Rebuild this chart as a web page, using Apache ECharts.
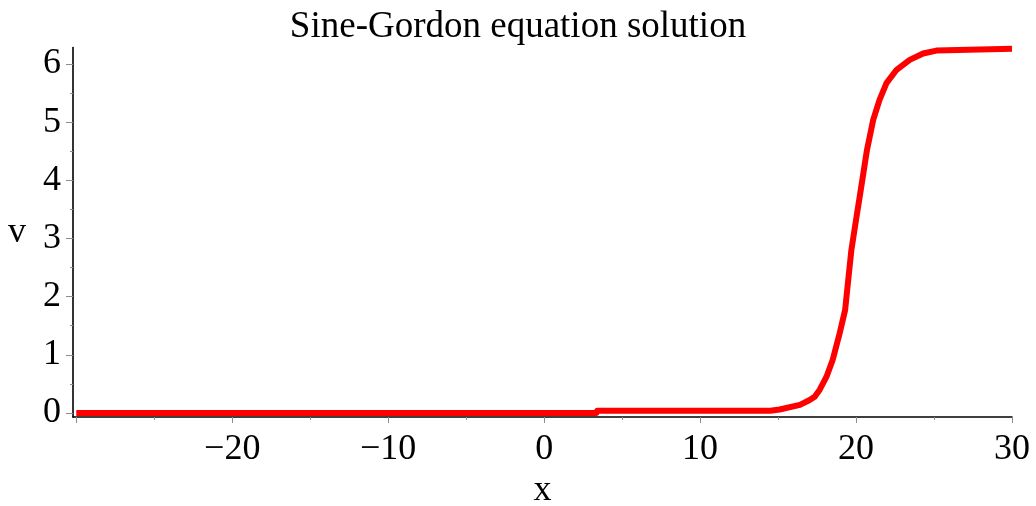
<!DOCTYPE html>
<html>
<head>
<meta charset="utf-8">
<script src="https://cdn.jsdelivr.net/npm/echarts@6/dist/echarts.min.js"></script>
<style>
  html, body { margin: 0; padding: 0; background: #fff; }
  #chart { width: 1036px; height: 506px; }
</style>
</head>
<body>
<div id="chart"></div>
<script>
// Kink profile v(x) of the sine-Gordon solution
const xValues = [-30, 3.35, 3.4, 14.5, 15.1, 16.4, 17.0, 17.35, 17.67, 18.1, 18.5, 18.95, 19.3, 19.5,
                 19.7, 20.0, 20.3, 20.7, 21.1, 21.5, 21.95, 22.6, 23.44, 24.3, 25.15, 30];
const vValues = [0, 0, 0.04, 0.04, 0.06, 0.14, 0.22, 0.28, 0.40, 0.62, 0.91, 1.37, 1.77, 2.29,
                 2.80, 3.32, 3.83, 4.52, 5.04, 5.38, 5.67, 5.90, 6.07, 6.18, 6.23, 6.26];

// Axis ticks and labels
const xLabelValues = [-20, -10, 0, 10, 20, 30];
const xMajorTicks = [-30, -20, -10, 0, 10, 20, 30];
const xMinorTicks = [-25, -15, -5, 5, 15, 25];
const yLabelValues = [0, 1, 2, 3, 4, 5, 6];
const yMinorTicks = [0.5, 1.5, 2.5, 3.5, 4.5, 5.5];

const titleText = 'Sine-Gordon equation solution';
const xName = 'x';
const yName = 'v';

const X_MIN = -30.21, X_MAX = 30;
const Y_MIN = -0.069, Y_MAX = 2 * Math.PI;

const serif = 'Liberation Serif';
const tickColor = '#8c8c8c';

const seriesData = xValues.map((x, i) => [x, vValues[i]]);

const fmtNum = v => (v < 0 ? '\u2212' + Math.abs(v) : String(v));

const chart = echarts.init(document.getElementById('chart'), null, { renderer: 'canvas' });

chart.setOption({
  animation: false,
  backgroundColor: '#ffffff',
  title: {
    text: titleText,
    left: 'center',
    top: 4,
    textStyle: { fontFamily: serif, fontSize: 37, fontWeight: 'normal', color: '#000' }
  },
  grid: { left: 73, right: 24, top: 47.5, bottom: 89, containLabel: false, outerBoundsMode: 'none' },
  xAxis: [
    {
      type: 'value',
      min: X_MIN, max: X_MAX,
      name: xName,
      nameLocation: 'middle',
      nameGap: 54,
      nameTextStyle: { fontFamily: serif, fontSize: 36, color: '#000' },
      axisLine: { show: true, onZero: false, lineStyle: { color: '#000', width: 1.6 } },
      axisTick: { show: true, customValues: xMajorTicks, length: 6, lineStyle: { color: tickColor, width: 1 } },
      axisLabel: {
        customValues: xLabelValues,
        formatter: fmtNum,
        margin: 15,
        fontFamily: serif, fontSize: 36, color: '#000'
      },
      splitLine: { show: false }
    },
    {
      type: 'value',
      min: X_MIN, max: X_MAX,
      position: 'bottom',
      axisLine: { show: false, onZero: false },
      axisTick: { show: true, customValues: xMinorTicks, length: 3, lineStyle: { color: tickColor, width: 1 } },
      axisLabel: { show: false },
      splitLine: { show: false }
    }
  ],
  yAxis: [
    {
      type: 'value',
      min: Y_MIN, max: Y_MAX,
      name: yName,
      nameLocation: 'middle',
      nameRotate: 0,
      nameGap: 47,
      nameTextStyle: { fontFamily: serif, fontSize: 36, color: '#000', padding: [18, 0, 0, 0] },
      axisLine: { show: true, onZero: false, lineStyle: { color: '#000', width: 1.6 } },
      axisTick: { show: true, customValues: yLabelValues, length: 7, lineStyle: { color: tickColor, width: 1 } },
      axisLabel: {
        customValues: yLabelValues,
        formatter: fmtNum,
        margin: 12,
        fontFamily: serif, fontSize: 36, color: '#000'
      },
      splitLine: { show: false }
    },
    {
      type: 'value',
      min: Y_MIN, max: Y_MAX,
      position: 'left',
      axisLine: { show: false, onZero: false },
      axisTick: { show: true, customValues: yMinorTicks, length: 3, lineStyle: { color: tickColor, width: 1 } },
      axisLabel: { show: false },
      splitLine: { show: false }
    }
  ],
  series: [
    {
      type: 'line',
      xAxisIndex: 0,
      yAxisIndex: 0,
      data: seriesData,
      showSymbol: false,
      smooth: false,
      lineStyle: { color: '#ff0000', width: 6, join: 'round', cap: 'butt' },
      clip: false
    }
  ]
});
</script>
</body>
</html>
